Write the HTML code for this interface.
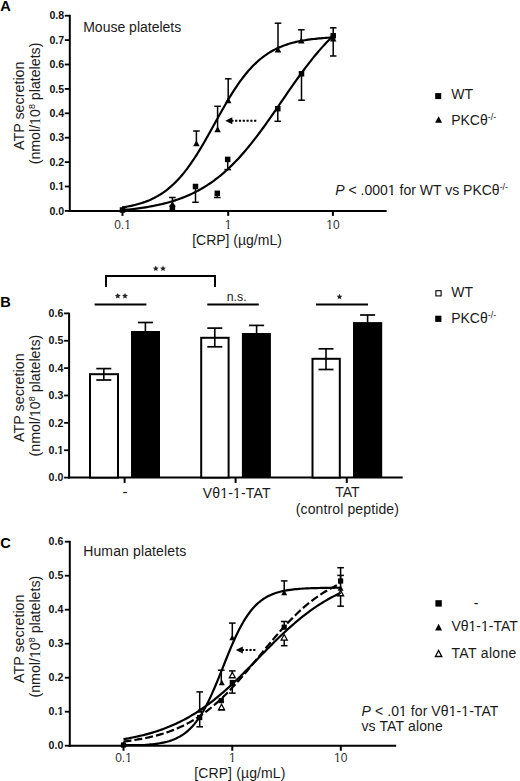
<!DOCTYPE html><html><head><meta charset="utf-8"><style>html,body{margin:0;padding:0;background:#fff;}svg{display:block;}text{font-family:"Liberation Sans",sans-serif;}</style></head><body>
<svg width="520" height="781" viewBox="0 0 520 781">
<rect width="520" height="781" fill="#fff"/>
<text x="0.2" y="10.7" font-size="14.6" text-anchor="start" font-weight="bold" fill="#000" >A</text>
<line x1="69.8" y1="14.8" x2="69.8" y2="211.9" stroke="#000" stroke-width="2"/>
<line x1="64.8" y1="210.9" x2="69.8" y2="210.9" stroke="#000" stroke-width="1.8"/>
<text x="64.2" y="214.6" font-size="10.6" text-anchor="end" font-weight="bold" fill="#111" >0.0</text>
<line x1="64.8" y1="186.5" x2="69.8" y2="186.5" stroke="#000" stroke-width="1.8"/>
<text x="64.2" y="190.2" font-size="10.6" text-anchor="end" font-weight="bold" fill="#111" >0.1</text>
<line x1="64.8" y1="162.10000000000002" x2="69.8" y2="162.10000000000002" stroke="#000" stroke-width="1.8"/>
<text x="64.2" y="165.8" font-size="10.6" text-anchor="end" font-weight="bold" fill="#111" >0.2</text>
<line x1="64.8" y1="137.70000000000002" x2="69.8" y2="137.70000000000002" stroke="#000" stroke-width="1.8"/>
<text x="64.2" y="141.4" font-size="10.6" text-anchor="end" font-weight="bold" fill="#111" >0.3</text>
<line x1="64.8" y1="113.30000000000001" x2="69.8" y2="113.30000000000001" stroke="#000" stroke-width="1.8"/>
<text x="64.2" y="117.00000000000001" font-size="10.6" text-anchor="end" font-weight="bold" fill="#111" >0.4</text>
<line x1="64.8" y1="88.9" x2="69.8" y2="88.9" stroke="#000" stroke-width="1.8"/>
<text x="64.2" y="92.60000000000001" font-size="10.6" text-anchor="end" font-weight="bold" fill="#111" >0.5</text>
<line x1="64.8" y1="64.50000000000003" x2="69.8" y2="64.50000000000003" stroke="#000" stroke-width="1.8"/>
<text x="64.2" y="68.20000000000003" font-size="10.6" text-anchor="end" font-weight="bold" fill="#111" >0.6</text>
<line x1="64.8" y1="40.10000000000002" x2="69.8" y2="40.10000000000002" stroke="#000" stroke-width="1.8"/>
<text x="64.2" y="43.800000000000026" font-size="10.6" text-anchor="end" font-weight="bold" fill="#111" >0.7</text>
<line x1="64.8" y1="15.700000000000017" x2="69.8" y2="15.700000000000017" stroke="#000" stroke-width="1.8"/>
<text x="64.2" y="19.400000000000016" font-size="10.6" text-anchor="end" font-weight="bold" fill="#111" >0.8</text>
<line x1="68.8" y1="210.9" x2="386.7" y2="210.9" stroke="#000" stroke-width="2"/>
<line x1="122.5" y1="210.9" x2="122.5" y2="215.9" stroke="#000" stroke-width="2"/>
<text x="122.5" y="229.3" font-size="12" text-anchor="middle" font-weight="normal" fill="#333" >0.1</text>
<line x1="228.2" y1="210.9" x2="228.2" y2="215.9" stroke="#000" stroke-width="2"/>
<text x="228.2" y="229.3" font-size="12" text-anchor="middle" font-weight="normal" fill="#333" >1</text>
<line x1="332.9" y1="210.9" x2="332.9" y2="215.9" stroke="#000" stroke-width="2"/>
<text x="332.9" y="229.3" font-size="12" text-anchor="middle" font-weight="normal" fill="#333" >10</text>
<text transform="translate(23.6,105.75) rotate(-90)" font-size="14.3" text-anchor="middle" fill="#1a1a1a">ATP secretion</text>
<text transform="translate(39.5,103.45) rotate(-90)" font-size="14.2" text-anchor="middle" fill="#1a1a1a">(nmol/10<tspan font-size="9" dy="-5">8</tspan><tspan dy="5"> platelets)</tspan></text>
<text x="83.2" y="31.9" font-size="14" text-anchor="start" font-weight="normal" fill="#1a1a1a" >Mouse platelets</text>
<text x="237" y="245.3" font-size="14" text-anchor="middle" font-weight="normal" fill="#1a1a1a" >[CRP] (µg/mL)</text>
<polyline points="122.50,207.41 124.25,207.13 126.01,206.84 127.76,206.52 129.52,206.17 131.27,205.81 133.03,205.41 134.78,204.99 136.53,204.54 138.29,204.06 140.04,203.55 141.80,203.00 143.55,202.41 145.30,201.79 147.06,201.12 148.81,200.41 150.57,199.65 152.32,198.84 154.07,197.98 155.83,197.06 157.58,196.09 159.34,195.06 161.09,193.96 162.85,192.80 164.60,191.57 166.35,190.27 168.11,188.90 169.86,187.45 171.62,185.92 173.37,184.31 175.12,182.61 176.88,180.84 178.63,178.97 180.39,177.02 182.14,174.98 183.90,172.85 185.65,170.63 187.40,168.33 189.16,165.93 190.91,163.46 192.67,160.90 194.42,158.26 196.18,155.54 197.93,152.75 199.68,149.89 201.44,146.97 203.19,143.99 204.95,140.96 206.70,137.89 208.45,134.78 210.21,131.64 211.96,128.48 213.72,125.31 215.47,122.14 217.22,118.97 218.98,115.81 220.73,112.67 222.49,109.56 224.24,106.48 226.00,103.45 227.75,100.47 229.50,97.55 231.26,94.69 233.01,91.90 234.77,89.18 236.52,86.53 238.28,83.97 240.03,81.49 241.78,79.09 243.54,76.78 245.29,74.56 247.05,72.43 248.80,70.39 250.55,68.43 252.31,66.56 254.06,64.78 255.82,63.09 257.57,61.47 259.32,59.94 261.08,58.49 262.83,57.11 264.59,55.81 266.34,54.57 268.10,53.41 269.85,52.31 271.60,51.28 273.36,50.30 275.11,49.39 276.87,48.52 278.62,47.71 280.38,46.95 282.13,46.24 283.88,45.57 285.64,44.94 287.39,44.35 289.15,43.80 290.90,43.29 292.65,42.81 294.41,42.36 296.16,41.93 297.92,41.54 299.67,41.17 301.43,40.83 303.18,40.51 304.93,40.21 306.69,39.93 308.44,39.67 310.20,39.43 311.95,39.20 313.70,38.99 315.46,38.79 317.21,38.61 318.97,38.44 320.72,38.28 322.48,38.13 324.23,37.99 325.98,37.86 327.74,37.74 329.49,37.63 331.25,37.52 333.00,37.43" fill="none" stroke="#000" stroke-width="2.2" stroke-linejoin="round" />
<polyline points="122.50,209.50 124.25,209.50 126.01,209.50 127.76,209.50 129.52,209.43 131.27,209.23 133.03,209.03 134.78,208.82 136.53,208.60 138.29,208.36 140.04,208.12 141.80,207.87 143.55,207.61 145.30,207.33 147.06,207.05 148.81,206.75 150.57,206.43 152.32,206.11 154.07,205.77 155.83,205.41 157.58,205.04 159.34,204.66 161.09,204.26 162.85,203.84 164.60,203.40 166.35,202.94 168.11,202.47 169.86,201.97 171.62,201.46 173.37,200.92 175.12,200.36 176.88,199.78 178.63,199.17 180.39,198.54 182.14,197.89 183.90,197.20 185.65,196.50 187.40,195.76 189.16,194.99 190.91,194.20 192.67,193.37 194.42,192.52 196.18,191.63 197.93,190.71 199.68,189.75 201.44,188.76 203.19,187.73 204.95,186.67 206.70,185.57 208.45,184.43 210.21,183.25 211.96,182.03 213.72,180.78 215.47,179.48 217.22,178.14 218.98,176.75 220.73,175.33 222.49,173.86 224.24,172.34 226.00,170.78 227.75,169.18 229.50,167.53 231.26,165.84 233.01,164.11 234.77,162.33 236.52,160.50 238.28,158.63 240.03,156.72 241.78,154.76 243.54,152.76 245.29,150.72 247.05,148.63 248.80,146.51 250.55,144.35 252.31,142.15 254.06,139.91 255.82,137.64 257.57,135.33 259.32,132.99 261.08,130.62 262.83,128.23 264.59,125.80 266.34,123.36 268.10,120.89 269.85,118.40 271.60,115.89 273.36,113.37 275.11,110.84 276.87,108.30 278.62,105.75 280.38,103.20 282.13,100.64 283.88,98.09 285.64,95.54 287.39,92.99 289.15,90.45 290.90,87.93 292.65,85.42 294.41,82.92 296.16,80.45 297.92,77.99 299.67,75.56 301.43,73.15 303.18,70.77 304.93,68.42 306.69,66.10 308.44,63.82 310.20,61.57 311.95,59.35 313.70,57.18 315.46,55.04 317.21,52.94 318.97,50.88 320.72,48.86 322.48,46.89 324.23,44.96 325.98,43.07 327.74,41.23 329.49,39.43 331.25,37.68 333.00,35.97" fill="none" stroke="#000" stroke-width="2.2" stroke-linejoin="round" />
<line x1="172.4" y1="197.5" x2="172.4" y2="205" stroke="#000" stroke-width="1.5"/>
<line x1="169.1" y1="197.5" x2="175.70000000000002" y2="197.5" stroke="#000" stroke-width="1.5"/>
<line x1="196.4" y1="131" x2="196.4" y2="143" stroke="#000" stroke-width="1.5"/>
<line x1="193.1" y1="131" x2="199.70000000000002" y2="131" stroke="#000" stroke-width="1.5"/>
<line x1="217.6" y1="106.3" x2="217.6" y2="129" stroke="#000" stroke-width="1.5"/>
<line x1="214.29999999999998" y1="106.3" x2="220.9" y2="106.3" stroke="#000" stroke-width="1.5"/>
<line x1="228.2" y1="78.8" x2="228.2" y2="100" stroke="#000" stroke-width="1.5"/>
<line x1="224.89999999999998" y1="78.8" x2="231.5" y2="78.8" stroke="#000" stroke-width="1.5"/>
<line x1="278" y1="23.2" x2="278" y2="49" stroke="#000" stroke-width="1.5"/>
<line x1="274.7" y1="23.2" x2="281.3" y2="23.2" stroke="#000" stroke-width="1.5"/>
<line x1="301.3" y1="29.8" x2="301.3" y2="40" stroke="#000" stroke-width="1.5"/>
<line x1="298.0" y1="29.8" x2="304.6" y2="29.8" stroke="#000" stroke-width="1.5"/>
<line x1="333.2" y1="27.8" x2="333.2" y2="36" stroke="#000" stroke-width="1.5"/>
<line x1="329.9" y1="27.8" x2="336.5" y2="27.8" stroke="#000" stroke-width="1.5"/>
<line x1="195.5" y1="202.3" x2="195.5" y2="187" stroke="#000" stroke-width="1.5"/>
<line x1="192.2" y1="202.3" x2="198.8" y2="202.3" stroke="#000" stroke-width="1.5"/>
<line x1="217.3" y1="197.5" x2="217.3" y2="193" stroke="#000" stroke-width="1.5"/>
<line x1="214.0" y1="197.5" x2="220.60000000000002" y2="197.5" stroke="#000" stroke-width="1.5"/>
<line x1="227.7" y1="169.6" x2="227.7" y2="159" stroke="#000" stroke-width="1.5"/>
<line x1="224.39999999999998" y1="169.6" x2="231.0" y2="169.6" stroke="#000" stroke-width="1.5"/>
<line x1="277.8" y1="121.3" x2="277.8" y2="108" stroke="#000" stroke-width="1.5"/>
<line x1="274.5" y1="121.3" x2="281.1" y2="121.3" stroke="#000" stroke-width="1.5"/>
<line x1="301.5" y1="100.2" x2="301.5" y2="74" stroke="#000" stroke-width="1.5"/>
<line x1="298.2" y1="100.2" x2="304.8" y2="100.2" stroke="#000" stroke-width="1.5"/>
<line x1="333.2" y1="56" x2="333.2" y2="36" stroke="#000" stroke-width="1.5"/>
<line x1="329.9" y1="56" x2="336.5" y2="56" stroke="#000" stroke-width="1.5"/>
<rect x="119.75" y="207.25" width="5.50" height="5.50" fill="#000"/>
<rect x="169.65" y="204.75" width="5.50" height="5.50" fill="#000"/>
<rect x="192.75" y="183.75" width="5.50" height="5.50" fill="#000"/>
<rect x="214.55" y="190.55" width="5.50" height="5.50" fill="#000"/>
<rect x="224.95" y="156.65" width="5.50" height="5.50" fill="#000"/>
<rect x="275.05" y="105.95" width="5.50" height="5.50" fill="#000"/>
<rect x="298.75" y="71.05" width="5.50" height="5.50" fill="#000"/>
<rect x="330.45" y="33.05" width="5.50" height="5.50" fill="#000"/>
<polygon points="122.50,206.00 125.75,212.00 119.25,212.00" fill="#000"/>
<polygon points="172.40,201.00 175.65,207.00 169.15,207.00" fill="#000"/>
<polygon points="196.40,140.30 199.65,146.30 193.15,146.30" fill="#000"/>
<polygon points="217.60,126.30 220.85,132.30 214.35,132.30" fill="#000"/>
<polygon points="228.20,97.30 231.45,103.30 224.95,103.30" fill="#000"/>
<polygon points="278.00,46.50 281.25,52.50 274.75,52.50" fill="#000"/>
<polygon points="301.30,37.50 304.55,43.50 298.05,43.50" fill="#000"/>
<polygon points="333.20,35.50 336.45,41.50 329.95,41.50" fill="#000"/>
<line x1="231.3" y1="120.8" x2="256.7" y2="120.8" stroke="#000" stroke-width="2" stroke-dasharray="2.2,1.6"/>
<polygon points="225.3,120.8 232.3,117.3 232.3,124.3" fill="#000"/>
<rect x="435.20" y="93.10" width="6.00" height="6.00" fill="#000"/>
<text x="451.2" y="99.4" font-size="14" text-anchor="start" font-weight="normal" fill="#1a1a1a" >WT</text>
<polygon points="438.60,116.35 442.10,122.85 435.10,122.85" fill="#000"/>
<text x="451.2" y="125.2" font-size="14" fill="#1a1a1a">PKCθ<tspan font-size="9" dy="-5">-/-</tspan></text>
<text x="335.3" y="194.7" font-size="14" fill="#1a1a1a"><tspan font-style="italic">P</tspan> &lt; .0001 for WT vs PKCθ<tspan font-size="9" dy="-5">-/-</tspan></text>
<text x="0.3" y="306.9" font-size="14.6" text-anchor="start" font-weight="bold" fill="#000" >B</text>
<line x1="69.1" y1="312.7" x2="69.1" y2="478.6" stroke="#000" stroke-width="2"/>
<line x1="64.1" y1="477.6" x2="69.1" y2="477.6" stroke="#000" stroke-width="1.8"/>
<text x="63.3" y="481.3" font-size="10.6" text-anchor="end" font-weight="bold" fill="#111" >0.0</text>
<line x1="64.1" y1="450.23" x2="69.1" y2="450.23" stroke="#000" stroke-width="1.8"/>
<text x="63.3" y="453.93" font-size="10.6" text-anchor="end" font-weight="bold" fill="#111" >0.1</text>
<line x1="64.1" y1="422.86" x2="69.1" y2="422.86" stroke="#000" stroke-width="1.8"/>
<text x="63.3" y="426.56" font-size="10.6" text-anchor="end" font-weight="bold" fill="#111" >0.2</text>
<line x1="64.1" y1="395.49" x2="69.1" y2="395.49" stroke="#000" stroke-width="1.8"/>
<text x="63.3" y="399.19" font-size="10.6" text-anchor="end" font-weight="bold" fill="#111" >0.3</text>
<line x1="64.1" y1="368.12" x2="69.1" y2="368.12" stroke="#000" stroke-width="1.8"/>
<text x="63.3" y="371.82" font-size="10.6" text-anchor="end" font-weight="bold" fill="#111" >0.4</text>
<line x1="64.1" y1="340.75" x2="69.1" y2="340.75" stroke="#000" stroke-width="1.8"/>
<text x="63.3" y="344.45" font-size="10.6" text-anchor="end" font-weight="bold" fill="#111" >0.5</text>
<line x1="64.1" y1="313.38" x2="69.1" y2="313.38" stroke="#000" stroke-width="1.8"/>
<text x="63.3" y="317.08" font-size="10.6" text-anchor="end" font-weight="bold" fill="#111" >0.6</text>
<line x1="68.3" y1="477.6" x2="402.7" y2="477.6" stroke="#000" stroke-width="2"/>
<line x1="124.6" y1="477.6" x2="124.6" y2="482.90000000000003" stroke="#000" stroke-width="2"/>
<line x1="235.6" y1="477.6" x2="235.6" y2="482.90000000000003" stroke="#000" stroke-width="2"/>
<line x1="346.8" y1="477.6" x2="346.8" y2="482.90000000000003" stroke="#000" stroke-width="2"/>
<text transform="translate(23.6,397.65) rotate(-90)" font-size="14.3" text-anchor="middle" fill="#1a1a1a">ATP secretion</text>
<text transform="translate(39.5,395.6) rotate(-90)" font-size="14.2" text-anchor="middle" fill="#1a1a1a">(nmol/10<tspan font-size="9" dy="-5">8</tspan><tspan dy="5"> platelets)</tspan></text>
<rect x="90" y="374.2" width="28" height="103.40000000000003" fill="#fff" stroke="#000" stroke-width="2"/>
<line x1="103.8" y1="368.6" x2="103.8" y2="380" stroke="#000" stroke-width="1.6"/>
<line x1="96.3" y1="368.6" x2="111.3" y2="368.6" stroke="#000" stroke-width="1.7"/>
<line x1="96.3" y1="380" x2="111.3" y2="380" stroke="#000" stroke-width="1.7"/>
<rect x="131" y="331" width="29" height="146.60000000000002" fill="#000"/>
<line x1="145.4" y1="322.5" x2="145.4" y2="332" stroke="#000" stroke-width="1.6"/>
<line x1="137.9" y1="322.5" x2="152.9" y2="322.5" stroke="#000" stroke-width="1.7"/>
<rect x="201.2" y="337.8" width="27.400000000000006" height="139.8" fill="#fff" stroke="#000" stroke-width="2"/>
<line x1="214.8" y1="328.1" x2="214.8" y2="346.8" stroke="#000" stroke-width="1.6"/>
<line x1="207.3" y1="328.1" x2="222.3" y2="328.1" stroke="#000" stroke-width="1.7"/>
<line x1="207.3" y1="346.8" x2="222.3" y2="346.8" stroke="#000" stroke-width="1.7"/>
<rect x="241.9" y="333" width="28.99999999999997" height="144.60000000000002" fill="#000"/>
<line x1="256.6" y1="325.4" x2="256.6" y2="334" stroke="#000" stroke-width="1.6"/>
<line x1="249.10000000000002" y1="325.4" x2="264.1" y2="325.4" stroke="#000" stroke-width="1.7"/>
<rect x="312.5" y="358.8" width="27.30000000000001" height="118.80000000000001" fill="#fff" stroke="#000" stroke-width="2"/>
<line x1="326" y1="348.8" x2="326" y2="369.5" stroke="#000" stroke-width="1.6"/>
<line x1="318.5" y1="348.8" x2="333.5" y2="348.8" stroke="#000" stroke-width="1.7"/>
<line x1="318.5" y1="369.5" x2="333.5" y2="369.5" stroke="#000" stroke-width="1.7"/>
<rect x="353" y="322.1" width="29.19999999999999" height="155.5" fill="#000"/>
<line x1="367.6" y1="315" x2="367.6" y2="323" stroke="#000" stroke-width="1.6"/>
<line x1="360.1" y1="315" x2="375.1" y2="315" stroke="#000" stroke-width="1.7"/>
<polyline points="106,287 106,276 215,276 215,287" fill="none" stroke="#000" stroke-width="2"/>
<line x1="94.6" y1="304.4" x2="146.4" y2="304.4" stroke="#000" stroke-width="2"/>
<line x1="207.3" y1="304.4" x2="258.8" y2="304.4" stroke="#000" stroke-width="2"/>
<line x1="316" y1="304.4" x2="368" y2="304.4" stroke="#000" stroke-width="2"/>
<polygon points="155.80,265.50 156.62,267.47 158.75,267.64 157.13,269.03 157.62,271.11 155.80,270.00 153.98,271.11 154.47,269.03 152.85,267.64 154.98,267.47" fill="#222"/>
<polygon points="163.00,265.50 163.82,267.47 165.95,267.64 164.33,269.03 164.82,271.11 163.00,270.00 161.18,271.11 161.67,269.03 160.05,267.64 162.18,267.47" fill="#222"/>
<polygon points="117.80,292.90 118.62,294.87 120.75,295.04 119.13,296.43 119.62,298.51 117.80,297.39 115.98,298.51 116.47,296.43 114.85,295.04 116.98,294.87" fill="#222"/>
<polygon points="125.00,292.90 125.82,294.87 127.95,295.04 126.33,296.43 126.82,298.51 125.00,297.39 123.18,298.51 123.67,296.43 122.05,295.04 124.18,294.87" fill="#222"/>
<polygon points="339.50,293.70 340.32,295.67 342.45,295.84 340.83,297.23 341.32,299.31 339.50,298.19 337.68,299.31 338.17,297.23 336.55,295.84 338.68,295.67" fill="#222"/>
<text x="236.7" y="301.2" font-size="12.3" text-anchor="middle" font-weight="normal" fill="#1a1a1a" >n.s.</text>
<text x="124.9" y="496.6" font-size="15" text-anchor="middle" font-weight="normal" fill="#1a1a1a" >-</text>
<text x="236.65" y="497.9" font-size="14" text-anchor="middle" font-weight="normal" fill="#1a1a1a"  textLength="67.9" lengthAdjust="spacing">Vθ1-1-TAT</text>
<text x="347.5" y="497.3" font-size="14" text-anchor="middle" font-weight="normal" fill="#1a1a1a" >TAT</text>
<text x="347.35" y="514.4" font-size="14" text-anchor="middle" font-weight="normal" fill="#1a1a1a"  textLength="103.1" lengthAdjust="spacing">(control peptide)</text>
<rect x="435.90" y="290.70" width="5.20" height="5.20" fill="#fff" stroke="#000" stroke-width="1.1"/>
<text x="451.2" y="296.9" font-size="14" text-anchor="start" font-weight="normal" fill="#1a1a1a" >WT</text>
<rect x="435.20" y="315.70" width="6.20" height="6.20" fill="#000"/>
<text x="451.2" y="323" font-size="14" fill="#1a1a1a">PKCθ<tspan font-size="9" dy="-5">-/-</tspan></text>
<text x="0.3" y="548.1" font-size="14.6" text-anchor="start" font-weight="bold" fill="#000" >C</text>
<line x1="69.8" y1="540.8" x2="69.8" y2="746.7" stroke="#000" stroke-width="2"/>
<line x1="64.8" y1="745.7" x2="69.8" y2="745.7" stroke="#000" stroke-width="1.8"/>
<text x="63.3" y="749.4000000000001" font-size="10.6" text-anchor="end" font-weight="bold" fill="#111" >0.0</text>
<line x1="64.8" y1="711.7" x2="69.8" y2="711.7" stroke="#000" stroke-width="1.8"/>
<text x="63.3" y="715.4000000000001" font-size="10.6" text-anchor="end" font-weight="bold" fill="#111" >0.1</text>
<line x1="64.8" y1="677.7" x2="69.8" y2="677.7" stroke="#000" stroke-width="1.8"/>
<text x="63.3" y="681.4000000000001" font-size="10.6" text-anchor="end" font-weight="bold" fill="#111" >0.2</text>
<line x1="64.8" y1="643.7" x2="69.8" y2="643.7" stroke="#000" stroke-width="1.8"/>
<text x="63.3" y="647.4000000000001" font-size="10.6" text-anchor="end" font-weight="bold" fill="#111" >0.3</text>
<line x1="64.8" y1="609.7" x2="69.8" y2="609.7" stroke="#000" stroke-width="1.8"/>
<text x="63.3" y="613.4000000000001" font-size="10.6" text-anchor="end" font-weight="bold" fill="#111" >0.4</text>
<line x1="64.8" y1="575.7" x2="69.8" y2="575.7" stroke="#000" stroke-width="1.8"/>
<text x="63.3" y="579.4000000000001" font-size="10.6" text-anchor="end" font-weight="bold" fill="#111" >0.5</text>
<line x1="64.8" y1="541.7" x2="69.8" y2="541.7" stroke="#000" stroke-width="1.8"/>
<text x="63.3" y="545.4000000000001" font-size="10.6" text-anchor="end" font-weight="bold" fill="#111" >0.6</text>
<line x1="68.5" y1="745.7" x2="396.2" y2="745.7" stroke="#000" stroke-width="2"/>
<line x1="123.5" y1="745.7" x2="123.5" y2="750.7" stroke="#000" stroke-width="2"/>
<text x="123.5" y="762.2" font-size="12" text-anchor="middle" font-weight="normal" fill="#333" >0.1</text>
<line x1="232.3" y1="745.7" x2="232.3" y2="750.7" stroke="#000" stroke-width="2"/>
<text x="232.3" y="762.2" font-size="12" text-anchor="middle" font-weight="normal" fill="#333" >1</text>
<line x1="340.8" y1="745.7" x2="340.8" y2="750.7" stroke="#000" stroke-width="2"/>
<text x="340.8" y="762.2" font-size="12" text-anchor="middle" font-weight="normal" fill="#333" >10</text>
<text transform="translate(23.6,638.75) rotate(-90)" font-size="14.3" text-anchor="middle" fill="#1a1a1a">ATP secretion</text>
<text transform="translate(39.5,636.65) rotate(-90)" font-size="14.2" text-anchor="middle" fill="#1a1a1a">(nmol/10<tspan font-size="9" dy="-5">8</tspan><tspan dy="5"> platelets)</tspan></text>
<text x="83.2" y="555.9" font-size="14" text-anchor="start" font-weight="normal" fill="#1a1a1a"  textLength="103" lengthAdjust="spacing">Human platelets</text>
<text x="239.8" y="778" font-size="14" text-anchor="middle" font-weight="normal" fill="#1a1a1a"  textLength="91.3" lengthAdjust="spacing">[CRP] (µg/mL)</text>
<line x1="199.7" y1="691.9" x2="199.7" y2="710" stroke="#000" stroke-width="1.5"/>
<line x1="196.39999999999998" y1="691.9" x2="203.0" y2="691.9" stroke="#000" stroke-width="1.5"/>
<line x1="199.7" y1="726.8" x2="199.7" y2="717" stroke="#000" stroke-width="1.5"/>
<line x1="196.39999999999998" y1="726.8" x2="203.0" y2="726.8" stroke="#000" stroke-width="1.5"/>
<line x1="221.3" y1="670.2" x2="221.3" y2="682" stroke="#000" stroke-width="1.5"/>
<line x1="218.0" y1="670.2" x2="224.60000000000002" y2="670.2" stroke="#000" stroke-width="1.5"/>
<line x1="221.5" y1="709.8" x2="221.5" y2="706" stroke="#000" stroke-width="1.5"/>
<line x1="218.2" y1="709.8" x2="224.8" y2="709.8" stroke="#000" stroke-width="1.5"/>
<line x1="232.3" y1="623.1" x2="232.3" y2="637" stroke="#000" stroke-width="1.5"/>
<line x1="229.0" y1="623.1" x2="235.60000000000002" y2="623.1" stroke="#000" stroke-width="1.5"/>
<line x1="232.3" y1="670.9" x2="232.3" y2="675" stroke="#000" stroke-width="1.5"/>
<line x1="229.0" y1="670.9" x2="235.60000000000002" y2="670.9" stroke="#000" stroke-width="1.5"/>
<line x1="232.3" y1="693.1" x2="232.3" y2="682" stroke="#000" stroke-width="1.5"/>
<line x1="229.0" y1="693.1" x2="235.60000000000002" y2="693.1" stroke="#000" stroke-width="1.5"/>
<line x1="284.2" y1="580.9" x2="284.2" y2="593" stroke="#000" stroke-width="1.5"/>
<line x1="280.9" y1="580.9" x2="287.5" y2="580.9" stroke="#000" stroke-width="1.5"/>
<line x1="284.2" y1="621.5" x2="284.2" y2="627" stroke="#000" stroke-width="1.5"/>
<line x1="280.9" y1="621.5" x2="287.5" y2="621.5" stroke="#000" stroke-width="1.5"/>
<line x1="284.2" y1="645.7" x2="284.2" y2="637" stroke="#000" stroke-width="1.5"/>
<line x1="280.9" y1="645.7" x2="287.5" y2="645.7" stroke="#000" stroke-width="1.5"/>
<line x1="340.6" y1="567.7" x2="340.6" y2="581" stroke="#000" stroke-width="1.5"/>
<line x1="337.3" y1="567.7" x2="343.90000000000003" y2="567.7" stroke="#000" stroke-width="1.5"/>
<line x1="340.6" y1="575.4" x2="340.6" y2="588" stroke="#000" stroke-width="1.5"/>
<line x1="337.3" y1="575.4" x2="343.90000000000003" y2="575.4" stroke="#000" stroke-width="1.5"/>
<line x1="340.6" y1="606.2" x2="340.6" y2="593" stroke="#000" stroke-width="1.5"/>
<line x1="337.3" y1="606.2" x2="343.90000000000003" y2="606.2" stroke="#000" stroke-width="1.5"/>
<polygon points="221.50,704.25 224.50,709.75 218.50,709.75" fill="#fff" stroke="#000" stroke-width="1.3" stroke-linejoin="miter"/>
<polygon points="232.30,672.25 235.30,677.75 229.30,677.75" fill="#fff" stroke="#000" stroke-width="1.3" stroke-linejoin="miter"/>
<polygon points="284.20,634.55 287.20,640.05 281.20,640.05" fill="#fff" stroke="#000" stroke-width="1.3" stroke-linejoin="miter"/>
<polygon points="340.60,590.25 343.60,595.75 337.60,595.75" fill="#fff" stroke="#000" stroke-width="1.3" stroke-linejoin="miter"/>
<polyline points="123.50,739.18 125.31,738.87 127.12,738.55 128.93,738.22 130.74,737.87 132.55,737.52 134.37,737.14 136.18,736.76 137.99,736.36 139.80,735.94 141.61,735.51 143.42,735.07 145.23,734.60 147.04,734.12 148.85,733.63 150.66,733.11 152.47,732.58 154.28,732.02 156.09,731.45 157.91,730.86 159.72,730.24 161.53,729.61 163.34,728.95 165.15,728.27 166.96,727.57 168.77,726.84 170.58,726.09 172.39,725.32 174.20,724.52 176.01,723.69 177.82,722.84 179.64,721.96 181.45,721.06 183.26,720.13 185.07,719.17 186.88,718.18 188.69,717.17 190.50,716.12 192.31,715.05 194.12,713.95 195.93,712.82 197.74,711.66 199.56,710.47 201.37,709.25 203.18,707.99 204.99,706.71 206.80,705.40 208.61,704.07 210.42,702.70 212.23,701.30 214.04,699.87 215.85,698.42 217.66,696.93 219.47,695.42 221.29,693.89 223.10,692.33 224.91,690.74 226.72,689.12 228.53,687.49 230.34,685.83 232.15,684.15 233.96,682.45 235.77,680.72 237.58,678.99 239.39,677.23 241.20,675.46 243.02,673.67 244.83,671.87 246.64,670.06 248.45,668.24 250.26,666.41 252.07,664.57 253.88,662.73 255.69,660.88 257.50,659.03 259.31,657.19 261.12,655.34 262.93,653.49 264.75,651.65 266.56,649.82 268.37,647.99 270.18,646.17 271.99,644.36 273.80,642.57 275.61,640.78 277.42,639.02 279.23,637.27 281.04,635.53 282.85,633.82 284.66,632.12 286.48,630.45 288.29,628.79 290.10,627.16 291.91,625.56 293.72,623.98 295.53,622.42 297.34,620.89 299.15,619.39 300.96,617.92 302.77,616.47 304.58,615.05 306.39,613.66 308.21,612.30 310.02,610.97 311.83,609.67 313.64,608.40 315.45,607.16 317.26,605.95 319.07,604.76 320.88,603.61 322.69,602.49 324.50,601.39 326.31,600.33 328.12,599.29 329.94,598.29 331.75,597.31 333.56,596.36 335.37,595.44 337.18,594.54 338.99,593.67 340.80,592.83" fill="none" stroke="#000" stroke-width="2.2" stroke-linejoin="round" />
<polyline points="123.50,741.49 125.31,741.27 127.12,741.05 128.93,740.81 130.74,740.56 132.55,740.30 134.37,740.03 136.18,739.75 137.99,739.45 139.80,739.14 141.61,738.81 143.42,738.47 145.23,738.11 147.04,737.74 148.85,737.35 150.66,736.94 152.47,736.51 154.28,736.06 156.09,735.60 157.91,735.11 159.72,734.60 161.53,734.07 163.34,733.52 165.15,732.94 166.96,732.34 168.77,731.71 170.58,731.06 172.39,730.38 174.20,729.67 176.01,728.93 177.82,728.16 179.64,727.36 181.45,726.53 183.26,725.66 185.07,724.76 186.88,723.83 188.69,722.86 190.50,721.86 192.31,720.82 194.12,719.74 195.93,718.63 197.74,717.47 199.56,716.28 201.37,715.04 203.18,713.77 204.99,712.45 206.80,711.09 208.61,709.70 210.42,708.26 212.23,706.77 214.04,705.25 215.85,703.69 217.66,702.08 219.47,700.43 221.29,698.74 223.10,697.02 224.91,695.25 226.72,693.44 228.53,691.60 230.34,689.72 232.15,687.81 233.96,685.86 235.77,683.88 237.58,681.87 239.39,679.83 241.20,677.76 243.02,675.67 244.83,673.55 246.64,671.42 248.45,669.26 250.26,667.09 252.07,664.91 253.88,662.72 255.69,660.52 257.50,658.31 259.31,656.10 261.12,653.88 262.93,651.68 264.75,649.47 266.56,647.27 268.37,645.09 270.18,642.91 271.99,640.75 273.80,638.61 275.61,636.49 277.42,634.39 279.23,632.31 281.04,630.26 282.85,628.24 284.66,626.25 286.48,624.29 288.29,622.36 290.10,620.47 291.91,618.61 293.72,616.79 295.53,615.01 297.34,613.27 299.15,611.57 300.96,609.91 302.77,608.28 304.58,606.70 306.39,605.17 308.21,603.67 310.02,602.21 311.83,600.80 313.64,599.43 315.45,598.10 317.26,596.81 319.07,595.56 320.88,594.35 322.69,593.18 324.50,592.05 326.31,590.96 328.12,589.91 329.94,588.89 331.75,587.91 333.56,586.96 335.37,586.05 337.18,585.18 338.99,584.33 340.80,583.52" fill="none" stroke="#000" stroke-width="2.2" stroke-linejoin="round" stroke-dasharray="8,3"/>
<polyline points="123.50,745.00 125.31,745.00 127.12,745.00 128.93,745.00 130.74,745.00 132.55,745.00 134.37,745.00 136.18,745.00 137.99,745.00 139.80,745.00 141.61,745.00 143.42,745.00 145.23,744.93 147.04,744.79 148.85,744.64 150.66,744.47 152.47,744.28 154.28,744.07 156.09,743.84 157.91,743.57 159.72,743.27 161.53,742.94 163.34,742.57 165.15,742.16 166.96,741.70 168.77,741.19 170.58,740.61 172.39,739.98 174.20,739.27 176.01,738.48 177.82,737.61 179.64,736.64 181.45,735.57 183.26,734.38 185.07,733.08 186.88,731.64 188.69,730.06 190.50,728.33 192.31,726.43 194.12,724.37 195.93,722.12 197.74,719.69 199.56,717.06 201.37,714.23 203.18,711.20 204.99,707.97 206.80,704.55 208.61,700.92 210.42,697.12 212.23,693.14 214.04,689.01 215.85,684.75 217.66,680.37 219.47,675.90 221.29,671.38 223.10,666.82 224.91,662.27 226.72,657.74 228.53,653.28 230.34,648.90 232.15,644.63 233.96,640.50 235.77,636.53 237.58,632.72 239.39,629.10 241.20,625.68 243.02,622.45 244.83,619.42 246.64,616.60 248.45,613.97 250.26,611.54 252.07,609.29 253.88,607.23 255.69,605.34 257.50,603.61 259.31,602.03 261.12,600.59 262.93,599.28 264.75,598.10 266.56,597.03 268.37,596.06 270.18,595.19 271.99,594.40 273.80,593.70 275.61,593.06 277.42,592.49 279.23,591.97 281.04,591.51 282.85,591.10 284.66,590.73 286.48,590.40 288.29,590.10 290.10,589.84 291.91,589.60 293.72,589.39 295.53,589.20 297.34,589.03 299.15,588.88 300.96,588.75 302.77,588.63 304.58,588.52 306.39,588.42 308.21,588.34 310.02,588.26 311.83,588.19 313.64,588.13 315.45,588.08 317.26,588.03 319.07,587.99 320.88,587.95 322.69,587.92 324.50,587.88 326.31,587.86 328.12,587.83 329.94,587.81 331.75,587.79 333.56,587.78 335.37,587.76 337.18,587.75 338.99,587.73 340.80,587.72" fill="none" stroke="#000" stroke-width="2.2" stroke-linejoin="round" />
<rect x="120.90" y="742.40" width="5.20" height="5.20" fill="#000"/>
<rect x="197.10" y="714.90" width="5.20" height="5.20" fill="#000"/>
<rect x="218.70" y="698.00" width="5.20" height="5.20" fill="#000"/>
<rect x="229.70" y="679.90" width="5.20" height="5.20" fill="#000"/>
<rect x="281.60" y="624.60" width="5.20" height="5.20" fill="#000"/>
<rect x="338.00" y="578.40" width="5.20" height="5.20" fill="#000"/>
<polygon points="123.50,741.25 126.50,746.75 120.50,746.75" fill="#000"/>
<polygon points="199.70,707.25 202.70,712.75 196.70,712.75" fill="#000"/>
<polygon points="221.80,679.75 224.80,685.25 218.80,685.25" fill="#000"/>
<polygon points="232.30,634.75 235.30,640.25 229.30,640.25" fill="#000"/>
<polygon points="284.20,589.75 287.20,595.25 281.20,595.25" fill="#000"/>
<polygon points="340.60,585.25 343.60,590.75 337.60,590.75" fill="#000"/>
<line x1="241.8" y1="650.1" x2="255.4" y2="650.1" stroke="#000" stroke-width="2" stroke-dasharray="2.2,1.6"/>
<polygon points="235.8,650.1 242.8,646.6 242.8,653.6" fill="#000"/>
<rect x="435.40" y="600.20" width="6.40" height="6.40" fill="#000"/>
<text x="476" y="607.8" font-size="14" text-anchor="middle" font-weight="normal" fill="#1a1a1a" >-</text>
<polygon points="438.60,623.80 442.10,630.40 435.10,630.40" fill="#000"/>
<text x="451.4" y="630.8" font-size="14" text-anchor="start" font-weight="normal" fill="#1a1a1a" >Vθ1-1-TAT</text>
<polygon points="438.60,650.50 441.80,656.50 435.40,656.50" fill="#fff" stroke="#000" stroke-width="1.3" stroke-linejoin="miter"/>
<text x="451.4" y="657.5" font-size="14" text-anchor="start" font-weight="normal" fill="#1a1a1a"  textLength="65" lengthAdjust="spacing">TAT alone</text>
<text x="361.6" y="715.6" font-size="14" fill="#1a1a1a" textLength="136.8" lengthAdjust="spacing"><tspan font-style="italic">P</tspan> &lt; .01 for Vθ1-1-TAT</text>
<text x="361.4" y="731.4" font-size="14" text-anchor="start" font-weight="normal" fill="#1a1a1a"  textLength="81.4" lengthAdjust="spacing">vs TAT alone</text>
<g><rect x="58.36" y="188.77" width="2.06" height="1.98" fill="#fff"/><rect x="62.58" y="188.77" width="1.92" height="1.98" fill="#fff"/></g>
<g><rect x="124.47" y="228.05" width="2.36" height="1.80" fill="#fff"/><rect x="128.59" y="228.05" width="2.26" height="1.80" fill="#fff"/></g>
<g><rect x="225.17" y="228.05" width="2.36" height="1.80" fill="#fff"/><rect x="229.29" y="228.05" width="2.26" height="1.80" fill="#fff"/></g>
<g><rect x="326.54" y="228.05" width="2.36" height="1.80" fill="#fff"/><rect x="330.66" y="228.05" width="2.26" height="1.80" fill="#fff"/></g>
<g transform="translate(39.5,103.45) rotate(-90)"><rect x="-20.98" y="-1.41" width="2.74" height="1.96" fill="#fff"/><rect x="-16.28" y="-1.41" width="2.63" height="1.96" fill="#fff"/></g>
<g><rect x="388.31" y="193.30" width="2.71" height="1.95" fill="#fff"/><rect x="392.96" y="193.30" width="2.60" height="1.95" fill="#fff"/></g>
<g><rect x="57.46" y="452.50" width="2.06" height="1.98" fill="#fff"/><rect x="61.68" y="452.50" width="1.92" height="1.98" fill="#fff"/></g>
<g transform="translate(39.5,395.6) rotate(-90)"><rect x="-20.98" y="-1.41" width="2.74" height="1.96" fill="#fff"/><rect x="-16.28" y="-1.41" width="2.63" height="1.96" fill="#fff"/></g>
<g><rect x="220.67" y="496.50" width="2.71" height="1.95" fill="#fff"/><rect x="225.31" y="496.50" width="2.60" height="1.95" fill="#fff"/></g>
<g><rect x="233.49" y="496.50" width="2.71" height="1.95" fill="#fff"/><rect x="238.14" y="496.50" width="2.60" height="1.95" fill="#fff"/></g>
<g><rect x="57.46" y="713.97" width="2.06" height="1.98" fill="#fff"/><rect x="61.68" y="713.97" width="1.92" height="1.98" fill="#fff"/></g>
<g><rect x="125.47" y="760.95" width="2.36" height="1.80" fill="#fff"/><rect x="129.59" y="760.95" width="2.26" height="1.80" fill="#fff"/></g>
<g><rect x="229.27" y="760.95" width="2.36" height="1.80" fill="#fff"/><rect x="233.39" y="760.95" width="2.26" height="1.80" fill="#fff"/></g>
<g><rect x="334.44" y="760.95" width="2.36" height="1.80" fill="#fff"/><rect x="338.56" y="760.95" width="2.26" height="1.80" fill="#fff"/></g>
<g transform="translate(39.5,636.65) rotate(-90)"><rect x="-20.98" y="-1.41" width="2.74" height="1.96" fill="#fff"/><rect x="-16.28" y="-1.41" width="2.63" height="1.96" fill="#fff"/></g>
<g><rect x="468.98" y="629.40" width="2.71" height="1.95" fill="#fff"/><rect x="473.63" y="629.40" width="2.60" height="1.95" fill="#fff"/></g>
<g><rect x="481.43" y="629.40" width="2.71" height="1.95" fill="#fff"/><rect x="486.08" y="629.40" width="2.60" height="1.95" fill="#fff"/></g>
<g><rect x="399.49" y="714.20" width="2.71" height="1.95" fill="#fff"/><rect x="404.13" y="714.20" width="2.60" height="1.95" fill="#fff"/></g>
<g><rect x="449.12" y="714.20" width="2.71" height="1.95" fill="#fff"/><rect x="453.77" y="714.20" width="2.60" height="1.95" fill="#fff"/></g>
<g><rect x="461.73" y="714.20" width="2.71" height="1.95" fill="#fff"/><rect x="466.38" y="714.20" width="2.60" height="1.95" fill="#fff"/></g>
</svg></body></html>
